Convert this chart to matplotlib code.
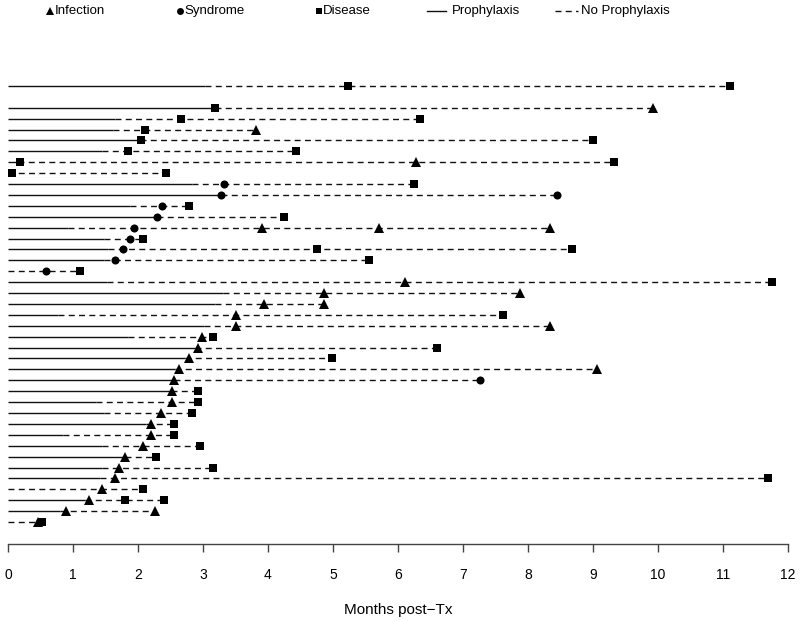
import matplotlib
matplotlib.use("Agg")
import matplotlib.pyplot as plt
from matplotlib.lines import Line2D

plt.rcParams['font.family'] = ['Liberation Sans', 'DejaVu Sans']

# ---- data (rows listed top to bottom; None = empty row) ----
prophylaxis_end = [3.03, None, 3.18, 1.64, 1.61, 2.03, 1.44, 0.15, 0.0, 2.83,
                   3.28, 1.87, 2.29, 0.92, 1.48, 1.54, 1.48, 0.0, 1.53, 3.31,
                   3.18, 0.77, 3.01, 1.84, 2.87, 2.72, 2.57, 2.55, 2.50, 1.36,
                   1.47, 2.13, 0.84, 1.44, 1.80, 1.44, 1.42, 0.0, 1.18, 0.80,
                   0.0]

infection_times = [[], [], [9.93], [], [3.81], [], [], [6.27], [], [],
                   [], [], [], [3.91, 5.71, 8.34], [], [], [], [], [6.11], [4.86, 7.88],
                   [3.94, 4.86], [3.51], [3.51, 8.34], [2.99], [2.92], [2.79], [2.63, 9.06], [2.56], [2.52], [2.52],
                   [2.36], [2.20], [2.20], [2.07], [1.80], [1.71], [1.64], [1.45], [1.24], [0.89, 2.26],
                   [0.46]]

syndrome_times = [[], [], [], [], [], [], [], [], [], [3.32],
                  [3.28, 8.45], [2.37], [2.29], [1.94], [1.87], [1.77], [1.64], [0.59], [], [],
                  [], [], [], [], [], [], [], [7.26], [], [],
                  [], [], [], [], [], [], [], [], [], [],
                  []]

disease_times = [[5.23, 11.10], [], [3.18], [2.66, 6.34], [2.10], [2.04, 9.00], [1.84, 4.43], [0.19, 9.33], [0.06, 2.43], [6.24],
                 [], [2.79], [4.24], [], [2.07], [4.76, 8.68], [5.55], [1.11], [11.75], [],
                 [], [7.62], [], [3.15], [6.60], [4.99], [], [], [2.92], [2.92],
                 [2.83], [2.56], [2.56], [2.95], [2.27], [3.15], [11.69], [2.07], [1.80, 2.40], [],
                 [0.52]]

x_ticks = list(range(0, 13))
x_label = "Months post\u2212Tx"
legend_labels = ["Infection", "Syndrome", "Disease", "Prophylaxis", "No Prophylaxis"]

# ---- figure ----
W, H = 800, 621
fig = plt.figure(figsize=(W / 100, H / 100), dpi=100)

top_px, bottom_px = 40, 544
ax = fig.add_axes([8 / W, 1 - bottom_px / H, 780 / W, (bottom_px - top_px) / H])

n = len(prophylaxis_end)
row_step = 10.9
first_row_px = 86
ax.set_xlim(0, 12)
ax.set_ylim(1 + (bottom_px - first_row_px) / row_step, 1 - (first_row_px - top_px) / row_step)

dash = (0, (4.3, 3.1))
lc = '#111111'
lw = 1.0
for i in range(n):
    y = i + 1
    p = prophylaxis_end[i]
    if p is None:
        continue
    events = infection_times[i] + syndrome_times[i] + disease_times[i]
    end = max(events + [p])
    if p > 0:
        ax.plot([0, p], [y, y], color=lc, lw=lw, solid_capstyle='butt')
    if end > p:
        ax.plot([p, end], [y, y], color=lc, lw=lw, linestyle=dash)
    for t in infection_times[i]:
        ax.plot(t, y, marker='^', ms=7.4, color='black', mew=0, zorder=5)
    for t in syndrome_times[i]:
        ax.plot(t, y, marker='o', ms=5.8, color='black', mew=0, zorder=5)
    for t in disease_times[i]:
        ax.plot(t, y, marker='s', ms=5.3, color='black', mew=0, zorder=5)

for s in ['top', 'right', 'left']:
    ax.spines[s].set_visible(False)
ax.spines['bottom'].set_color('#444444')
ax.spines['bottom'].set_linewidth(1.0)
ax.set_yticks([])
ax.set_xticks(x_ticks)
ax.set_xticklabels([str(t) for t in x_ticks], fontsize=10)
ax.tick_params(axis='x', length=5.5, width=1.0, color='#444444', pad=12)

fig.text(398 / W, 1 - 610 / H, x_label, ha='center', va='center', fontsize=11)

# ---- legend (top) ----
ly = 1 - 11 / H
fs = 9.5
def fx(px):
    return px / W

fig.add_artist(Line2D([fx(50)], [ly], marker='^', ms=6, color='black', mew=0, transform=fig.transFigure))
fig.text(fx(55), ly, legend_labels[0], ha='left', va='center', fontsize=fs)
fig.add_artist(Line2D([fx(179.5)], [ly], marker='o', ms=5, color='black', mew=0, transform=fig.transFigure))
fig.text(fx(184), ly, legend_labels[1], ha='left', va='center', fontsize=fs)
fig.add_artist(Line2D([fx(318.5)], [ly], marker='s', ms=5, color='black', mew=0, transform=fig.transFigure))
fig.text(fx(323), ly, legend_labels[2], ha='left', va='center', fontsize=fs)
fig.add_artist(Line2D([fx(427), fx(446)], [ly, ly], color=lc, lw=lw, transform=fig.transFigure))
fig.text(fx(452), ly, legend_labels[3], ha='left', va='center', fontsize=fs)
fig.add_artist(Line2D([fx(555), fx(578)], [ly, ly], color=lc, lw=lw, linestyle=dash, transform=fig.transFigure))
fig.text(fx(581), ly, legend_labels[4], ha='left', va='center', fontsize=fs)

fig.savefig("out.png", dpi=100)
